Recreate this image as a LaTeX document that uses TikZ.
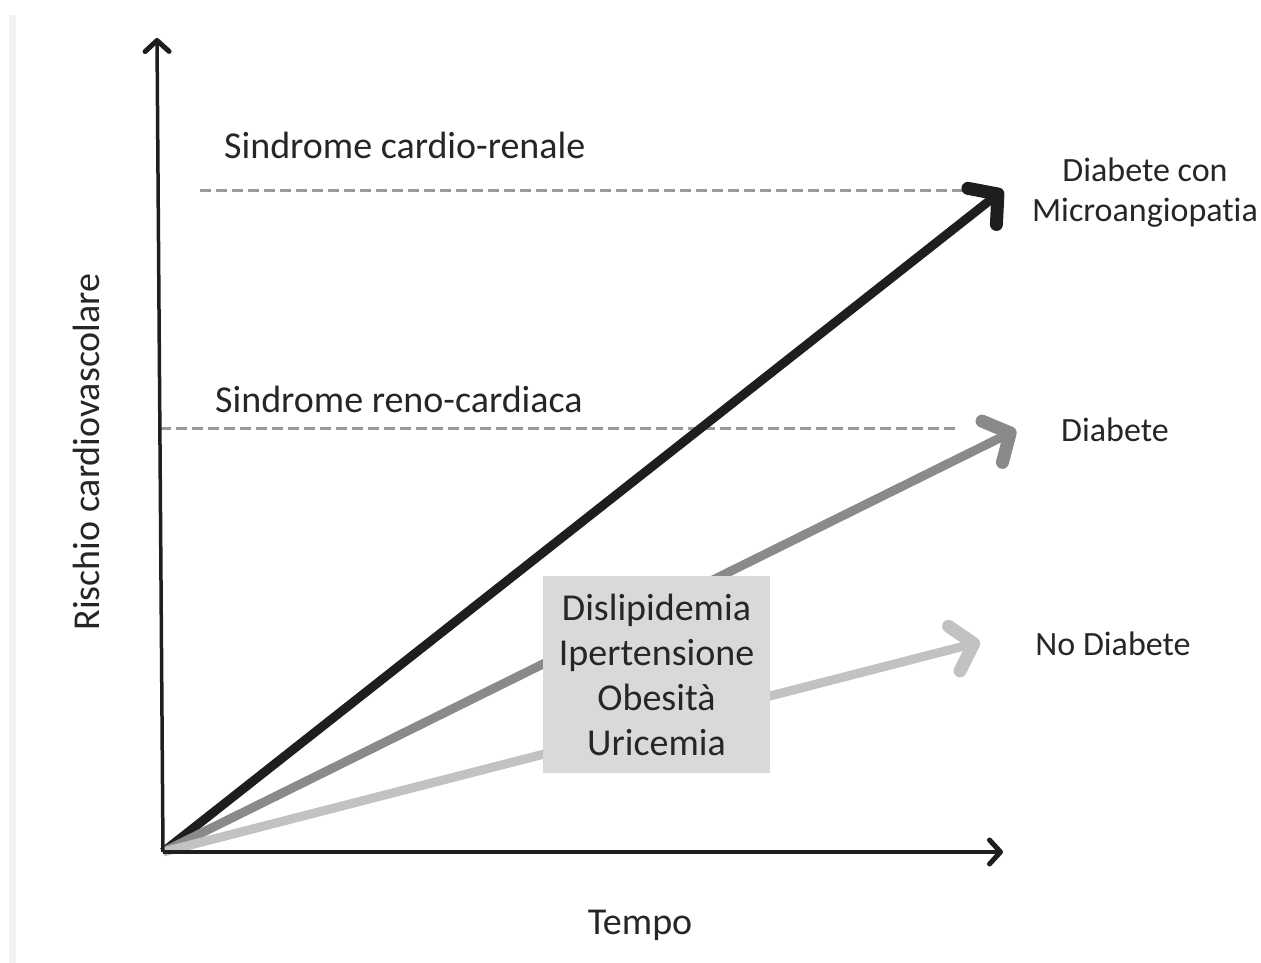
\documentclass[tikz,border=0pt]{standalone}
\usepackage{fontspec}
\setmainfont{Carlito}[Ligatures=NoCommon]
\usetikzlibrary{arrows.meta}
\definecolor{txt}{HTML}{262626}
\definecolor{darkarr}{HTML}{1E1E1E}
\definecolor{midarr}{HTML}{8A8A8A}
\definecolor{lightarr}{HTML}{C2C2C2}
\definecolor{dashc}{HTML}{9A9A9A}
\definecolor{boxc}{HTML}{D9D9D9}
\definecolor{edgec}{HTML}{F2F2F2}
\begin{document}
\begin{tikzpicture}[x=1pt,y=-1pt,
  axis/.style={line width=3.5pt,color=darkarr,-{Straight Barb[length=11pt,width=24pt,line width=5pt,round]}},
  trend/.style={line width=9pt,-{Straight Barb[length=20pt,width=46pt,line width=13pt,round]}},
  level/.style={dash pattern=on 11pt off 5pt,line width=3pt,color=dashc},
  lbl/.style={text=txt,font=\fontsize{38}{45}\selectfont,inner sep=0pt},
  rlbl/.style={text=txt,font=\fontsize{34}{40}\selectfont,inner sep=0pt,align=center},
  factors/.style={fill=boxc,text=txt,font=\fontsize{38}{45}\selectfont,align=center,
    minimum width=227pt,minimum height=197pt,inner sep=0pt}]
\useasboundingbox (0,0) rectangle (1261,963);
\fill[edgec] (9,15) rectangle (16,963);
% coordinates
\coordinate (O) at (163,852);
\coordinate (ytop) at (157,38);
\coordinate (xend) at (1003,852);
\coordinate (tipA) at (1003,190);
\coordinate (tipB) at (1016,430);
\coordinate (tipC) at (980,642);
\coordinate (dA1) at (200,190);
\coordinate (dA2) at (1003,190);
\coordinate (dB1) at (160,428);
\coordinate (dB2) at (955,428);
% dashed levels
\draw[level] (dA1) -- (dA2);
\draw[level] (dB1) -- (dB2);
% trend arrows
\draw[trend,color=darkarr] (O) -- (tipA);
\draw[trend,color=midarr] (O) -- (tipB);
\draw[trend,color=lightarr] (O) -- (tipC);
% axes
\draw[axis] (O) -- (ytop);
\draw[axis] (O) -- (xend);
% labels
\node[lbl,anchor=west] (cr) at (224,145) {Sindrome cardio-renale};
\node[lbl,anchor=west] (rc) at (215,399) {Sindrome reno-cardiaca};
\node[rlbl] (micro) at (1145,193) {Diabete con\\Microangiopatia};
\node[rlbl] (diab) at (1115,430) {Diabete};
\node[rlbl] (nodiab) at (1113,644) {No Diabete};
\node[factors] (box) at (656.5,674.5) {Dislipidemia\\Ipertensione\\Obesità\\Uricemia};
\node[lbl,rotate=90] (ylab) at (86,452) {Rischio cardiovascolare};
\node[lbl] (xlab) at (640,925) {Tempo};
\end{tikzpicture}
\end{document}
